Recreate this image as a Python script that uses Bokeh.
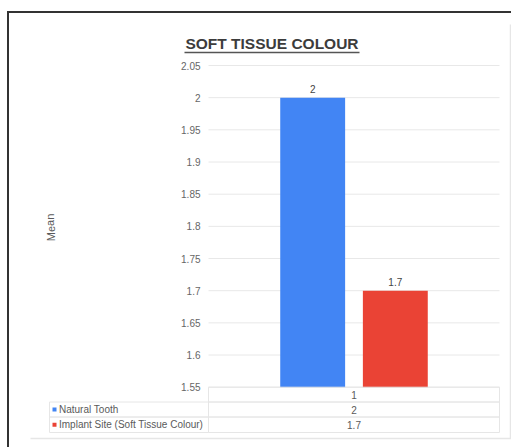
from bokeh.plotting import figure
from bokeh.models import Range1d
from bokeh.core.properties import value
from bokeh.embed import file_html
from bokeh.resources import INLINE

# ---- data ----
group = ["1"]
series_names = ["Natural Tooth", "Implant Site (Soft Tissue Colour)"]
series_values = [2, 1.7]
series_colors = ["#4285f4", "#ea4335"]
y_ticks = [1.55, 1.6, 1.65, 1.7, 1.75, 1.8, 1.85, 1.9, 1.95, 2.0, 2.05]
y_tick_labels = ["1.55", "1.6", "1.65", "1.7", "1.75", "1.8", "1.85", "1.9", "1.95", "2", "2.05"]
y_min, y_max = 1.55, 2.05

# ---- layout (pixels) ----
FONT = value("Liberation Sans")
W, H = 511, 447
PL, PR, PT, PB = 208, 499, 65, 386.7   # plot area edges
TXT = "#5a5a5a"

# The canvas is addressed in pixels (y downwards); values and groups get their own ranges
p = figure(width=W, height=H, x_range=Range1d(0, W), y_range=Range1d(H, 0),
           output_backend="svg", toolbar_location=None, min_border=0)
p.axis.visible = False
p.grid.visible = False
p.outline_line_color = None

k = (PB - PT) / (y_max - y_min)
p.extra_y_ranges = {"val": Range1d(y_min - (H - PB) / k, y_max + PT / k)}
gw = PR - PL
p.extra_x_ranges = {"grp": Range1d(-0.5 - PL / gw, 0.5 + (W - PR) / gw)}

# horizontal grid lines + y tick labels
p.segment(x0=PL, x1=PR, y0=y_ticks, y1=y_ticks, y_range_name="val",
          line_color="#e8e8e8", line_width=1)
p.text(x=PL - 8, y=y_ticks, text=y_tick_labels, y_range_name="val",
       text_font=FONT, text_font_size="10px", text_color="#666666",
       text_align="right", text_baseline="middle")

# bars with value labels
offsets = [-0.142, 0.142]
bar_w = 0.223
for name, val, col, off in zip(series_names, series_values, series_colors, offsets):
    p.vbar(x=[group.index("1") + off], top=[val], bottom=y_min, width=bar_w,
           x_range_name="grp", y_range_name="val", fill_color=col, line_color=None)
    p.text(x=[group.index("1") + off], y=[val], text=[f"{val:g}"],
           x_range_name="grp", y_range_name="val", y_offset=-9,
           text_font=FONT, text_font_size="10px", text_color="#444444",
           text_align="center", text_baseline="middle")

# outer frame (dark) and inner chart border (light)
p.segment(x0=[7.5, 6.5], x1=[7.5, W], y0=[10.5, 11.5], y1=[H, 11.5],
          line_color="#333333", line_width=2)
p.segment(x0=[510, 30], x1=[510, W], y0=[24, 438], y1=[438, 438],
          line_color="#e6e6e6", line_width=1.5)

# title with underline
p.text(x=[271.5], y=[43], text=["SOFT TISSUE COLOUR"], text_font=FONT,
       text_font_size="15.5px", text_font_style="bold", text_color="#3c3c3c",
       text_align="center", text_baseline="middle")
p.segment(x0=[184], x1=[359], y0=[52], y1=[52], line_color="#555555", line_width=1.5)

# axis title
p.text(x=[50], y=[227], text=["Mean"], angle=1.5708, text_font=FONT,
       text_font_size="11px", text_color=TXT, text_align="center",
       text_baseline="middle")

# data table under the plot
row_top = [PB, 401.5, 416.5]
row_bot = [401.5, 416.5, 432]
p.quad(left=[PL, PL, PL], right=[PR, PR, PR], top=row_top, bottom=row_bot,
       fill_color=None, line_color="#e6e6e6", line_width=1)
p.quad(left=[49, 49], right=[PL, PL], top=row_top[1:], bottom=row_bot[1:],
       fill_color=None, line_color="#e6e6e6", line_width=1)
cx = (PL + PR) / 2
row_mid = [(t + b) / 2 for t, b in zip(row_top, row_bot)]
p.text(x=[cx], y=[row_mid[0]], text=group, text_font=FONT, text_font_size="10px",
       text_color=TXT, text_align="center", text_baseline="middle")
p.rect(x=[54, 54], y=row_mid[1:], width=4, height=4, fill_color=series_colors, line_color=None)
p.text(x=[58.5, 58.5], y=row_mid[1:], text=series_names, text_font=FONT, text_font_size="10px",
       text_color=TXT, text_align="left", text_baseline="middle")
p.text(x=[cx, cx], y=row_mid[1:], text=[f"{v:g}" for v in series_values], text_font=FONT,
       text_font_size="10px", text_color=TXT, text_align="center", text_baseline="middle")

open("out.html", "w").write(file_html(p, INLINE))
